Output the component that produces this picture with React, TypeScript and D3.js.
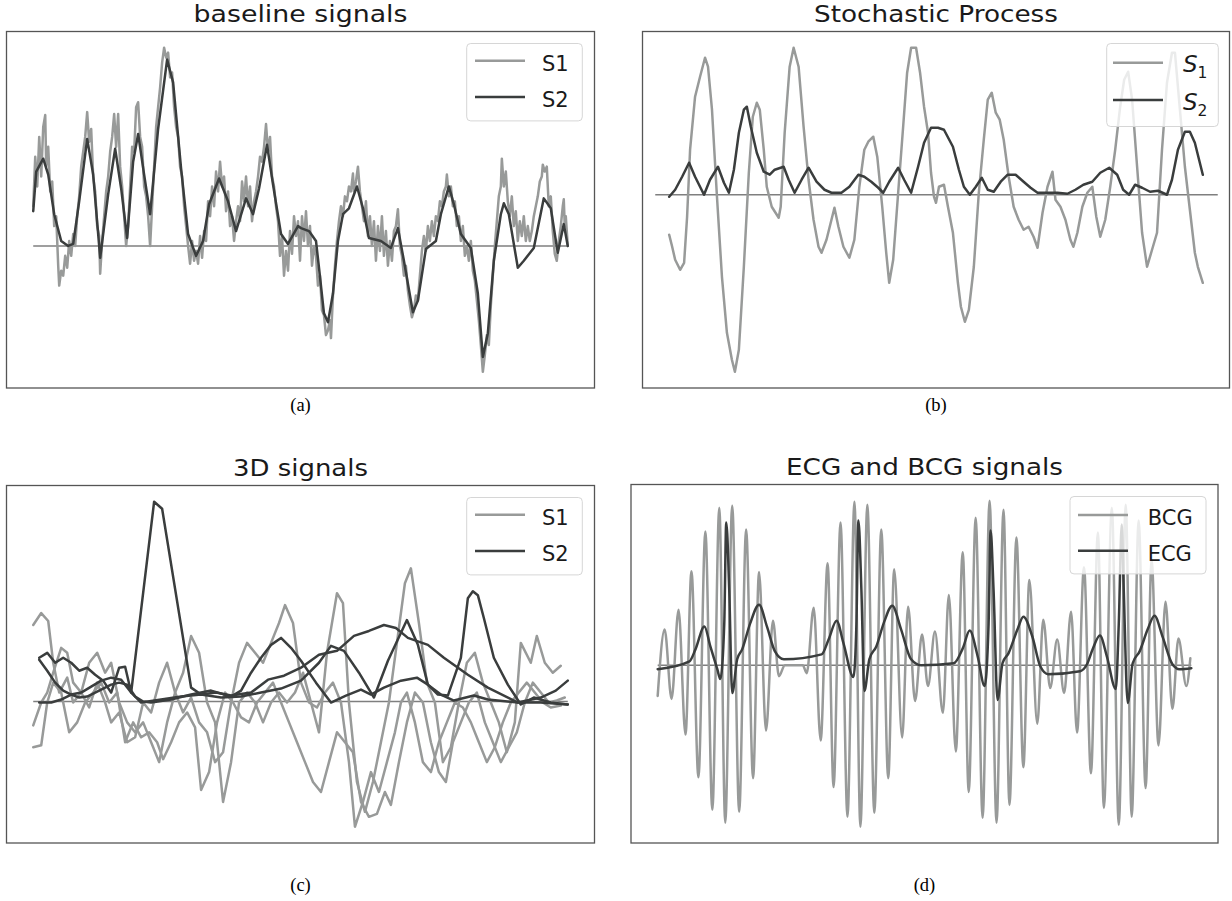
import React from 'react';
import * as d3 from 'd3';

type Pt = [number, number];

// ---------- (a) baseline signals ----------
const baseS1: Pt[] = [
  [0, 40], [2, 90], [4, 60], [6, 110], [8, 70], [10, 120], [12, 132], [13, 80], [15, 100], [17, 55], [19, 65], [21, 20], [23, 30], [25, -20], [26, -40], [28, -25], [30, -30], [32, -10], [34, -22], [36, 5], [38, -10], [40, 12], [42, 0], [44, 30], [46, 50], [48, 80], [50, 95], [52, 110], [54, 135], [56, 105], [58, 118], [60, 70], [62, 55], [64, 20], [66, 10], [67, -28], [69, 5], [71, 30], [73, 55], [75, 70], [77, 95], [79, 110], [81, 133], [83, 100], [85, 133], [87, 80], [89, 60], [91, 30], [93, 0], [95, 20], [97, 60], [99, 100], [101, 95], [103, 140], [105, 145], [107, 110], [109, 100], [111, 60], [113, 50], [115, 30], [117, 0], [119, 40], [121, 80], [123, 120], [125, 140], [127, 160], [129, 185], [131, 200], [133, 190], [135, 195], [137, 170], [139, 175], [141, 140], [143, 120], [145, 110], [147, 80], [149, 70], [151, 40], [153, 20], [155, 0], [157, -18], [159, 5], [161, -15], [163, -5], [165, -18], [167, 10], [169, -12], [171, 15], [173, 5], [175, 45], [177, 30], [179, 60], [181, 40], [183, 75], [185, 55], [187, 85], [189, 60], [191, 70], [193, 35], [195, 55], [197, 20], [199, 30], [201, 5], [203, 25], [205, 40], [207, 25], [209, 65], [211, 45], [213, 70], [215, 40], [217, 60], [219, 25], [221, 45], [223, 55], [225, 70], [227, 90], [229, 85], [231, 100], [233, 123], [235, 95], [237, 110], [239, 70], [241, 60], [243, 40], [245, 25], [247, -10], [249, 10], [251, -30], [253, -5], [255, -25], [257, 15], [259, -8], [261, 30], [263, 10], [265, 25], [267, -15], [269, 30], [271, 5], [273, 35], [275, 0], [277, 20], [279, -20], [281, 0], [283, -10], [285, -40], [287, -30], [289, -65], [291, -70], [293, -90], [295, -85], [297, -75], [298, -93], [300, -50], [302, -20], [304, 5], [306, 25], [308, 40], [310, 30], [312, 50], [314, 45], [316, 60], [318, 55], [320, 73], [321, 55], [323, 65], [325, 80], [327, 55], [329, 40], [331, 25], [333, 45], [335, 10], [337, 30], [339, 0], [341, 25], [343, -15], [345, 20], [347, -5], [349, 30], [351, -10], [353, 15], [355, -20], [357, 5], [359, -15], [361, 15], [363, 20], [365, 37], [367, 0], [369, -10], [371, -30], [373, -20], [375, -45], [377, -60], [379, -72], [381, -65], [383, -50], [385, -55], [387, -30], [389, -5], [391, 10], [393, -5], [395, 20], [397, 5], [399, 25], [401, 10], [403, 30], [405, 25], [407, 45], [409, 40], [411, 55], [413, 60], [414, 72], [416, 50], [418, 60], [420, 40], [422, 45], [424, 20], [426, 30], [428, 5], [430, 20], [432, -10], [434, 0], [436, -15], [438, 5], [440, -25], [442, -35], [444, -55], [446, -75], [448, -100], [450, -127], [452, -110], [454, -90], [456, -100], [458, -60], [460, -30], [462, 0], [464, 25], [466, 50], [468, 60], [469, 88], [471, 60], [473, 75], [475, 45], [477, 30], [479, 50], [481, 20], [483, 35], [485, 5], [487, 25], [489, 10], [491, 30], [493, 5], [495, 20], [497, 5], [499, 15], [501, 30], [503, 40], [505, 50], [507, 65], [509, 70], [510, 82], [512, 75], [514, 80], [516, 40], [518, 50], [520, 15], [522, -8], [524, -15], [526, 5], [528, 20], [530, 40], [531, 47], [532, 20], [533, 30], [535, 0],
];
const baseS2: Pt[] = [
  [0, 35], [3, 75], [10, 88], [15, 72], [21, 32], [28, 5], [35, 0], [40, 2], [46, 45], [54, 108], [60, 72], [67, -12], [75, 52], [82, 98], [88, 58], [94, 8], [100, 85], [105, 113], [111, 72], [117, 32], [125, 118], [134, 188], [140, 165], [148, 78], [155, 12], [163, -10], [170, 5], [176, 42], [186, 68], [195, 45], [203, 15], [213, 48], [220, 32], [226, 58], [234, 102], [240, 62], [248, 12], [255, 2], [265, 20], [268, 18], [276, 15], [283, 5], [286, -22], [291, -68], [295, -77], [300, -48], [305, 5], [310, 32], [316, 38], [324, 60], [330, 38], [336, 8], [348, 5], [358, -2], [365, 18], [371, -15], [380, -67], [385, -55], [393, -3], [403, 5], [408, 32], [416, 60], [421, 42], [428, 12], [438, -2], [445, -48], [450, -112], [455, -88], [461, -15], [468, 32], [471, 43], [476, 32], [485, -22], [491, -15], [501, -2], [511, 48], [518, 38], [525, -7], [531, 22], [535, 0],
];

// ---------- (b) Stochastic Process ----------
const stochS1: Pt[] = [
  [0, -40], [3, -52], [6, -65], [11, -75], [15, -68], [18, -22], [21, 45], [26, 98], [31, 118], [36, 137], [39, 128], [43, 85], [48, -2], [53, -82], [58, -138], [63, -165], [66, -177], [70, -155], [75, -72], [80, 22], [84, 78], [88, 92], [91, 85], [95, 45], [98, 8], [103, -12], [110, -23], [112, -12], [116, 62], [121, 128], [125, 147], [130, 128], [135, 68], [140, 15], [145, -25], [150, -52], [153, -58], [158, -45], [163, -25], [166, -13], [170, -32], [175, -52], [181, -63], [186, -45], [191, 8], [196, 45], [200, 53], [205, 58], [209, 38], [214, -12], [218, -58], [221, -88], [225, -65], [230, 2], [235, 68], [239, 122], [243, 147], [248, 147], [252, 122], [256, 88], [260, 62], [263, 22], [266, -2], [268, -8], [271, 8], [276, 10], [280, -12], [285, -38], [290, -88], [293, -112], [297, -127], [301, -115], [306, -72], [311, 2], [316, 55], [320, 95], [324, 102], [328, 82], [332, 75], [336, 55], [341, 18], [346, -12], [351, -25], [356, -35], [361, -32], [366, -42], [370, -53], [375, -18], [380, 8], [385, 23], [388, -5], [393, -12], [398, -25], [403, -45], [406, -52], [410, -38], [415, -12], [420, 2], [425, 8], [429, -22], [433, -42], [438, -25], [443, 8], [448, 45], [453, 88], [457, 115], [461, 123], [465, 95], [470, 28], [475, -38], [480, -72], [485, -55], [490, -38], [495, 45], [500, 112], [505, 142], [508, 142], [513, 85], [518, 28], [523, -15], [528, -58], [531, -72], [536, -88],
];
const stochS2: Pt[] = [
  [0, -2], [6, 5], [13, 18], [20, 32], [26, 18], [35, 0], [41, 15], [49, 28], [55, 12], [60, 2], [65, 25], [70, 62], [75, 85], [78, 88], [82, 68], [88, 42], [95, 23], [101, 20], [106, 25], [115, 28], [120, 15], [126, 2], [133, 15], [140, 27], [148, 13], [156, 5], [163, 2], [173, 2], [181, 8], [190, 20], [196, 18], [203, 13], [210, 7], [215, 2], [221, 13], [230, 27], [236, 15], [243, 2], [250, 28], [256, 52], [263, 67], [270, 67], [276, 65], [285, 48], [291, 25], [296, 8], [302, 0], [308, 8], [314, 17], [320, 5], [326, 3], [333, 13], [340, 20], [348, 20], [356, 13], [363, 7], [370, 2], [380, 2], [390, 2], [400, 1], [408, 5], [416, 10], [425, 13], [433, 22], [442, 27], [450, 20], [456, 5], [462, 0], [468, 10], [475, 7], [483, 3], [491, 4], [500, 0], [505, 15], [511, 45], [518, 63], [523, 63], [528, 52], [536, 20],
];

// ---------- (c) 3D signals ----------
const s1x: Pt[] = [
  [0, 77], [8, 89], [15, 81], [20, 39], [26, 9], [34, 24], [40, -1], [48, 9], [56, -6], [64, 19], [72, -1], [78, -21], [86, -11], [94, -41], [102, -36], [110, -1], [118, -11], [126, 19], [134, 39], [142, 9], [150, -11], [158, 4], [166, -21], [174, -31], [182, -61], [190, -51], [198, -1], [206, 39], [214, 59], [222, 49], [230, 39], [238, 59], [246, 79], [252, 97], [260, 79], [268, 19], [276, -1], [284, -6], [292, 9], [300, 19], [308, -1], [316, -61], [322, -126], [330, -101], [338, -71], [346, -91], [354, -61], [362, -31], [368, -1], [374, 9], [382, -21], [390, -61], [398, -71], [406, -41], [414, -21], [422, -1], [430, -6], [438, -21], [446, -41], [454, -61], [462, -46], [470, -21], [478, -1], [486, 9], [494, 19], [502, 9], [510, -1], [518, -6], [528, -4],
];
const s1y: Pt[] = [
  [0, -24], [8, -1], [14, 9], [20, 29], [28, 54], [34, 49], [40, 19], [48, 9], [56, 39], [64, 49], [72, 29], [78, 39], [86, -1], [94, -21], [102, -31], [110, -21], [118, -41], [126, -61], [134, -21], [142, 9], [150, 29], [158, 66], [166, 49], [174, -1], [182, -21], [190, -101], [198, -61], [206, -1], [214, 9], [222, -1], [230, -21], [238, -1], [246, 9], [254, -1], [262, 9], [270, 29], [278, -1], [286, -31], [294, 49], [304, 109], [310, 99], [316, -1], [324, -81], [332, -111], [340, -81], [348, -41], [356, -1], [364, 59], [372, 119], [378, 134], [386, 79], [394, 19], [402, -1], [410, -61], [418, -46], [426, -1], [434, 39], [442, 49], [450, 19], [458, -1], [466, -21], [474, -51], [482, -21], [488, 59], [498, 39], [504, 66], [512, 39], [520, 29], [528, 36],
];
const s1z: Pt[] = [
  [0, -46], [8, -44], [14, -1], [20, 19], [28, 9], [36, -31], [44, -21], [52, -1], [60, 9], [68, 19], [76, -1], [84, 9], [92, -41], [100, -21], [108, -36], [116, -31], [124, -41], [130, -58], [138, -41], [146, -21], [154, -11], [162, -26], [168, -89], [176, -71], [184, -21], [192, 9], [200, -1], [208, -16], [216, -21], [224, -1], [232, 9], [240, 19], [248, -1], [256, -21], [264, -41], [272, -61], [280, -81], [288, -91], [296, -61], [304, -31], [312, -41], [320, -51], [328, -101], [336, -116], [344, -113], [352, -91], [358, -104], [366, -61], [374, -21], [382, 9], [390, -1], [398, -41], [406, -71], [413, -81], [420, -41], [428, -21], [436, -1], [444, 9], [452, -21], [460, -41], [468, -61], [476, -46], [484, -31], [492, -1], [500, 19], [508, 9], [516, -1], [524, 1], [532, 4],
];
const s2x: Pt[] = [
  [6, 44], [14, 49], [22, 39], [30, 44], [38, 39], [46, 31], [54, 34], [62, 27], [70, 21], [78, 9], [86, 34], [92, 35], [98, 9], [121, 201], [129, 194], [158, 14], [168, 7], [183, 9], [198, 6], [218, 9], [235, 22], [251, 26], [268, 34], [286, 47], [304, 51], [321, 66], [336, 71], [351, 77], [363, 74], [375, 64], [395, 57], [411, 44], [435, 27], [455, 14], [485, -1], [508, -1], [535, -3],
];
const s2y: Pt[] = [
  [6, 42], [14, 31], [22, 19], [30, 11], [38, 7], [46, 4], [54, 5], [62, 9], [70, 13], [78, 17], [86, 19], [94, 17], [102, 5], [110, 0], [118, -1], [138, 2], [158, 7], [178, 11], [198, 5], [208, 11], [218, 29], [228, 44], [238, 57], [248, 64], [258, 54], [268, 41], [283, 19], [298, -1], [313, 6], [328, 12], [338, 7], [351, 14], [368, 21], [384, 24], [395, 17], [408, 7], [421, 1], [441, 6], [455, 2], [485, -1], [508, 4], [523, 11], [535, 21],
];
const s2z: Pt[] = [
  [6, -1], [18, -1], [28, 2], [38, 7], [48, 9], [58, 15], [68, 21], [78, 24], [88, 22], [98, 9], [108, -1], [128, 2], [148, 5], [168, 7], [188, 4], [208, 5], [228, 9], [248, 13], [268, 21], [286, 39], [298, 56], [311, 51], [326, 29], [341, 4], [355, 41], [374, 82], [385, 57], [395, 17], [405, 7], [415, 6], [428, 44], [435, 104], [440, 111], [445, 107], [451, 84], [461, 44], [475, 17], [488, -3], [501, 4], [518, -1], [535, -3],
];

// ---------- (d) ECG and BCG ----------
const bcg: Pt[] = [
  [0, -31], [7, 36], [14, -34], [21, 56], [28, -70], [34, 95], [41, -113], [48, 135], [55, -146], [62, 159], [68, -159], [75, 161], [82, -148], [89, 137], [96, -114], [102, 94], [109, -66], [116, 45], [122, -11], [128, 0], [146, 0], [150, -8], [157, 58], [164, -76], [171, 103], [177, -123], [184, 144], [191, -153], [198, 165], [204, -163], [211, 162], [218, -149], [225, 137], [232, -114], [238, 97], [246, -73], [252, 59], [259, -36], [266, 31], [272, -21], [279, 34], [287, -48], [293, 71], [300, -87], [307, 114], [313, -128], [320, 149], [327, -154], [334, 166], [341, -159], [348, 157], [354, -141], [361, 129], [368, -103], [374, 86], [382, -59], [388, 46], [395, -23], [402, 26], [409, -28], [416, 54], [422, -68], [429, 99], [436, -109], [443, 134], [449, -144], [457, 159], [464, -161], [471, 162], [477, -153], [484, 146], [491, -124], [497, 106], [504, -81], [511, 64], [518, -44], [524, 27], [532, -21], [536, 7],
];
const ecg: Pt[] = [
  [0, -4], [32, 4], [38, 16], [47, 39], [53, 19], [60, -4], [63, -14], [67, 42], [69, 144], [72, 76], [75, -28], [80, 6], [85, 16], [93, 42], [102, 61], [110, 39], [118, 14], [127, 6], [165, 11], [172, 26], [180, 45], [187, 22], [197, -12], [200, 42], [202, 146], [205, 76], [208, -26], [213, 6], [220, 19], [228, 44], [236, 60], [245, 36], [255, 6], [265, 0], [298, 2], [307, 17], [314, 35], [322, 9], [329, -21], [333, 42], [335, 136], [338, 76], [342, -35], [347, 2], [353, 12], [362, 36], [368, 49], [377, 29], [385, -1], [393, -9], [425, -6], [432, 1], [438, 17], [445, 30], [452, 9], [461, -24], [464, 42], [467, 142], [469, 76], [473, -38], [478, 2], [485, 14], [493, 36], [500, 50], [508, 29], [518, 1], [525, -4], [537, -3],
];

const titles = ['baseline signals', 'Stochastic Process', '3D signals', 'ECG and BCG signals'];
const titleWidths = [214, 244, 135, 277];
const captions = ['(a)', '(b)', '(c)', '(d)'];

const LIGHT = '#989a99';
const DARK = '#3a3d3d';

type Frame = { x0: number; x1: number; y0: number; y1: number };
type Series = { data: Pt[]; color: string; curve: d3.CurveFactory };
type LegendSpec = { x0: number; width: number; height: number; items: { label: React.ReactNode; color: string }[]; lineX0: number; lineX1: number; textX: number; rows: number[]; texts: number[] };

function Panel(props: {
  frame: Frame; title: string; titleWidth: number; caption: string; captionY: number;
  series: Series[]; base: [number, number]; legend: LegendSpec;
}) {
  const { frame, title, titleWidth, caption, captionY, series, base, legend } = props;
  const allX = series.flatMap((s) => s.data.map((d) => d[0]));
  const allY = series.flatMap((s) => s.data.map((d) => d[1]));
  const [xa, xb] = d3.extent(allX) as [number, number];
  const [ya, yb] = d3.extent(allY) as [number, number];
  const px = (xb - xa) * 0.05;
  const py = (yb - ya) * 0.05;
  const x = d3.scaleLinear().domain([xa - px, xb + px]).range([frame.x0, frame.x1]);
  const y = d3.scaleLinear().domain([ya - py, yb + py]).range([frame.y1, frame.y0]);
  const cx = (frame.x0 + frame.x1) / 2;
  const clipId = 'clip-' + caption.replace(/[()]/g, '');
  return (
    <g>
      <defs>
        <clipPath id={clipId}>
          <rect x={frame.x0} y={frame.y0} width={frame.x1 - frame.x0} height={frame.y1 - frame.y0} />
        </clipPath>
      </defs>
      <g clipPath={`url(#${clipId})`}>
        <line x1={x(base[0])} x2={x(base[1])} y1={y(0)} y2={y(0)} stroke="#7f7f7f" strokeWidth={1.5} />
        {series.map((s, i) => {
          const path = d3.line<Pt>().x((d) => x(d[0])).y((d) => y(d[1])).curve(s.curve)(s.data) || '';
          return <path key={i} d={path} fill="none" stroke={s.color} strokeWidth={2.5} strokeLinejoin="round" strokeLinecap="round" />;
        })}
      </g>
      <rect x={frame.x0} y={frame.y0} width={frame.x1 - frame.x0} height={frame.y1 - frame.y0} fill="none" stroke="#555" strokeWidth={1.3} />
      <text x={cx} y={frame.y0 - 9.5} textAnchor="middle" fontFamily="DejaVu Sans" fontSize={23.5} fill="#1a1a1a"
        textLength={titleWidth} lengthAdjust="spacingAndGlyphs">{title}</text>
      <text x={cx} y={captionY} textAnchor="middle" fontFamily="Liberation Serif" fontSize={18.5} fill="#000">{caption}</text>
      <g>
        <rect x={legend.x0} y={frame.y0 + 12} width={legend.width} height={legend.height} rx={4} fill="#fff" fillOpacity={0.8} stroke="#d6d6d6" strokeWidth={1} />
        {legend.items.map((it, i) => (
          <g key={i}>
            <line x1={legend.lineX0} x2={legend.lineX1} y1={frame.y0 + legend.rows[i]} y2={frame.y0 + legend.rows[i]} stroke={it.color} strokeWidth={2.5} />
            <text x={legend.textX} y={frame.y0 + legend.texts[i]} fontFamily="DejaVu Sans" fontSize={21} fill="#1a1a1a">{it.label}</text>
          </g>
        ))}
      </g>
    </g>
  );
}

const sub = (n: string) => (
  <>
    <tspan fontStyle="italic" fontSize={23}>S</tspan>
    <tspan fontSize={15.5} dy={6}>{n}</tspan>
  </>
);

export default function App() {
  const fa: Frame = { x0: 6.5, x1: 594.5, y0: 31.5, y1: 388 };
  const fb: Frame = { x0: 642.5, x1: 1229.5, y0: 31.5, y1: 388 };
  const fc: Frame = { x0: 6.5, x1: 594.5, y0: 485.5, y1: 843 };
  const fd: Frame = { x0: 631, x1: 1218, y0: 484.5, y1: 843 };
  const lin = d3.curveLinear;
  const mono = d3.curveMonotoneX;
  const legS = (items: { label: React.ReactNode; color: string }[]): LegendSpec => ({
    x0: 466.7, width: 115.6, height: 77.4, items, lineX0: 475, lineX1: 525, textX: 542, rows: [29.2, 65.5], texts: [39.5, 75.2],
  });
  return (
    <svg width={1232} height={901} style={{ position: 'absolute', left: 0, top: 0, background: '#fff' }}>
      <rect x={0} y={0} width={1232} height={901} fill="#fff" />
      <Panel frame={fa} title={titles[0]} titleWidth={titleWidths[0]} caption={captions[0]} captionY={411}
        series={[{ data: baseS1, color: LIGHT, curve: lin }, { data: baseS2, color: DARK, curve: lin }]}
        base={[0, 535]}
        legend={legS([{ label: 'S1', color: LIGHT }, { label: 'S2', color: DARK }])} />
      <Panel frame={fb} title={titles[1]} titleWidth={titleWidths[1]} caption={captions[1]} captionY={411}
        series={[{ data: stochS1, color: LIGHT, curve: lin }, { data: stochS2, color: DARK, curve: lin }]}
        base={[-14, 551]}
        legend={{ x0: 1106.7, width: 111.6, height: 83, items: [{ label: sub('1'), color: LIGHT }, { label: sub('2'), color: DARK }], lineX0: 1113, lineX1: 1163, textX: 1183, rows: [31.2, 68.5], texts: [40.5, 78] }} />
      <Panel frame={fc} title={titles[2]} titleWidth={titleWidths[2]} caption={captions[2]} captionY={891}
        series={[
          { data: s1x, color: LIGHT, curve: lin }, { data: s1y, color: LIGHT, curve: lin }, { data: s1z, color: LIGHT, curve: lin },
          { data: s2x, color: DARK, curve: lin }, { data: s2y, color: DARK, curve: lin }, { data: s2z, color: DARK, curve: lin },
        ]}
        base={[0, 535]}
        legend={legS([{ label: 'S1', color: LIGHT }, { label: 'S2', color: DARK }])} />
      <Panel frame={fd} title={titles[3]} titleWidth={titleWidths[3]} caption={captions[3]} captionY={891}
        series={[{ data: bcg, color: LIGHT, curve: mono }, { data: ecg, color: DARK, curve: mono }]}
        base={[0, 537]}
        legend={{ x0: 1070, width: 136, height: 77.4, items: [{ label: 'BCG', color: LIGHT }, { label: 'ECG', color: DARK }], lineX0: 1078, lineX1: 1128, textX: 1147.7, rows: [30.5, 66.2], texts: [40.8, 76.5] }} />
    </svg>
  );
}
